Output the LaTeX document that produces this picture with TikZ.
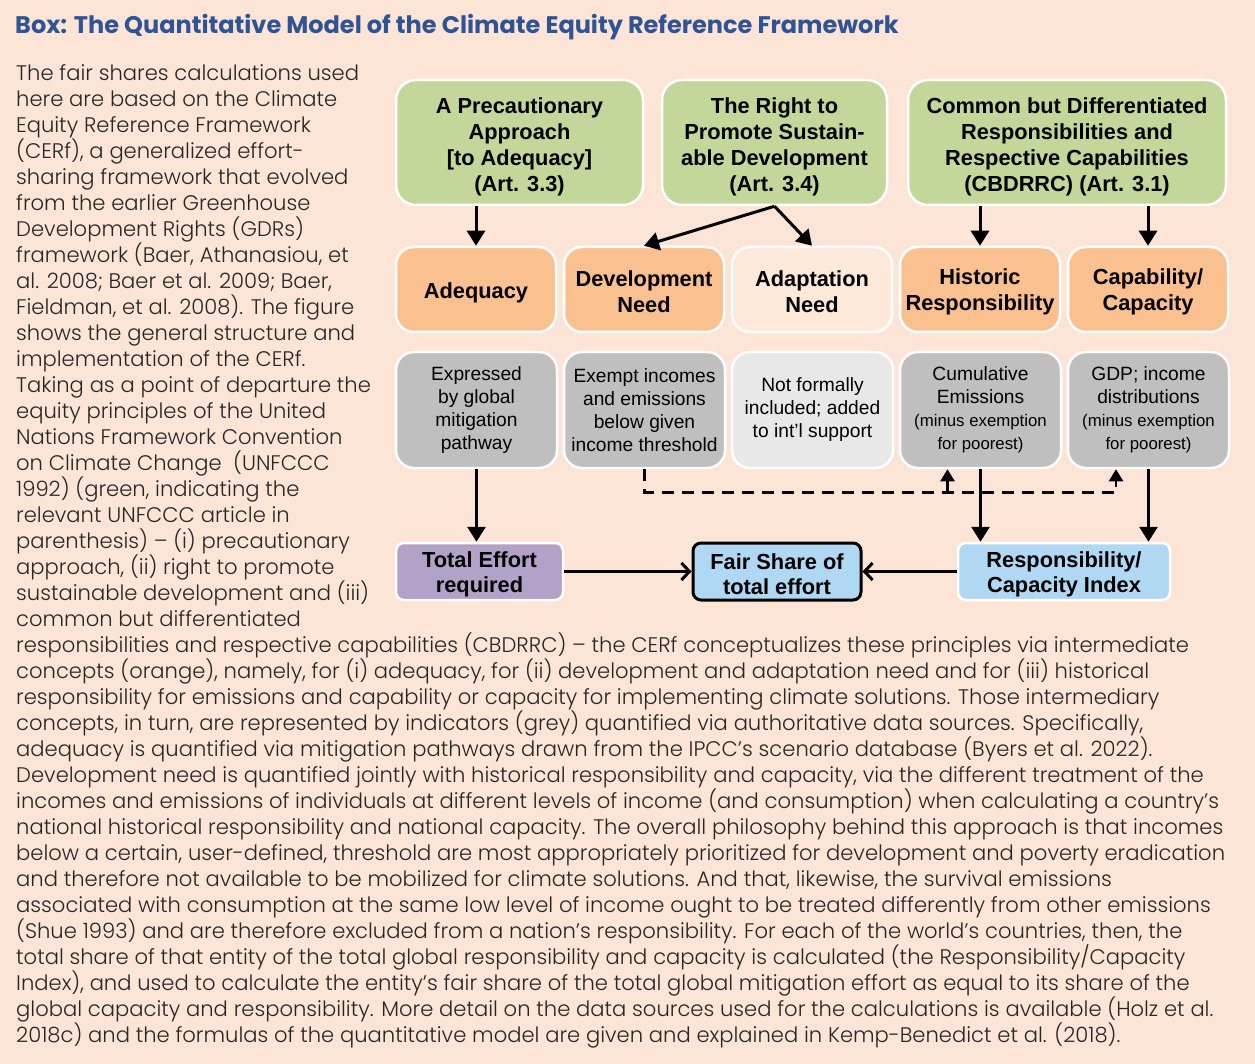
\documentclass[tikz,border=0pt]{standalone}
\usepackage{fontspec}
\usepackage{tikz}
\usetikzlibrary{arrows.meta,shapes}
\newfontfamily\bodyfont{Poppins}[UprightFont=* Light]
\newfontfamily\titlefont{Poppins}
\newfontfamily\diagfont{Liberation Sans}
\definecolor{boxbg}{HTML}{FCE4D6}
\definecolor{titleblue}{HTML}{2F5496}
\definecolor{greenbox}{HTML}{C4D79B}
\definecolor{orangebox}{HTML}{FAC090}
\definecolor{paleorange}{HTML}{FDE9D9}
\definecolor{greybox}{HTML}{BFBFBF}
\definecolor{palegrey}{HTML}{E8E8E8}
\definecolor{purplebox}{HTML}{B3A2C7}
\definecolor{bluebox}{HTML}{B0D8F2}
\tikzstyle{principle} = [rectangle, draw=white, line width=2.5pt, fill=greenbox,
    align=center, rounded corners=20pt, minimum height=125pt, inner sep=2pt,
    font=\diagfont\bfseries\fontsize{21.8}{26}\selectfont]
\tikzstyle{concept} = [rectangle, draw=white, line width=2.5pt, fill=orangebox,
    align=center, rounded corners=18pt, minimum width=160pt, minimum height=85pt,
    inner sep=2pt, font=\diagfont\bfseries\fontsize{21.8}{26}\selectfont]
\tikzstyle{indicator} = [rectangle, draw=white, line width=2.5pt, fill=greybox,
    align=center, rounded corners=18pt, minimum width=161pt, minimum height=116pt,
    inner sep=2pt, font=\diagfont\fontsize{19.2}{23}\selectfont]
\tikzstyle{result} = [rectangle, draw=white, line width=2.5pt, fill=bluebox,
    align=center, rounded corners=8pt, minimum height=57pt, inner sep=2pt,
    font=\diagfont\bfseries\fontsize{21.8}{25}\selectfont]
\tikzstyle{line} = [draw, line width=3pt, -{Triangle[length=15pt,width=18pt]}]
\tikzstyle{flow} = [draw, line width=3pt, -{Straight Barb[length=8pt,width=17pt]}]
\tikzstyle{dashline} = [draw, line width=2.5pt, dash pattern=on 12pt off 8pt,
    -{Triangle[length=12pt,width=14pt]}]
\newcommand{\minus}[1]{{\fontsize{16.8}{21}\selectfont #1}}
\newcommand{\lift}[1]{\rule{0pt}{#1}}

\begin{document}
\begin{tikzpicture}[x=1pt, y=-1pt]
  \useasboundingbox (0,0) rectangle (1255,1064);
  \fill [boxbg] (0,0) rectangle (1255,1064);

  % Heading and text
  \node [anchor=west, inner sep=0pt, text=titleblue,
    font=\titlefont\bfseries\fontsize{24}{28}\selectfont] (title) at (15,27.5)
    {Box: The Quantitative Model of the Climate Equity Reference Framework};
  \node [anchor=north west, align=left, inner sep=0pt, text=black!85,
    font=\bodyfont\fontsize{21.1}{26}\selectfont] (bodytext) at (16,64)
    {The fair shares calculations used\\
    here are based on the Climate\\
    Equity Reference Framework\\
    (CERf), a generalized effort-\\
    sharing framework that evolved\\
    from the earlier Greenhouse\\
    Development Rights (GDRs)\\
    framework (Baer, Athanasiou, et\\
    al. 2008; Baer et al. 2009; Baer,\\
    Fieldman, et al. 2008). The figure\\
    shows the general structure and\\
    implementation of the CERf.\\
    Taking as a point of departure the\\
    equity principles of the United\\
    Nations Framework Convention\\
    on Climate Change~ (UNFCCC\\
    1992) (green, indicating the\\
    relevant UNFCCC article in\\
    parenthesis) – (i) precautionary\\
    approach, (ii) right to promote\\
    sustainable development and (iii)\\
    common but differentiated\\
    responsibilities and respective capabilities (CBDRRC) – the CERf conceptualizes these principles via intermediate\\
    concepts (orange), namely, for (i) adequacy, for (ii) development and adaptation need and for (iii) historical\\
    responsibility for emissions and capability or capacity for implementing climate solutions. Those intermediary\\
    concepts, in turn, are represented by indicators (grey) quantified via authoritative data sources. Specifically,\\
    adequacy is quantified via mitigation pathways drawn from the IPCC’s scenario database (Byers et al. 2022).\\
    Development need is quantified jointly with historical responsibility and capacity, via the different treatment of the\\
    incomes and emissions of individuals at different levels of income (and consumption) when calculating a country’s\\
    national historical responsibility and national capacity. The overall philosophy behind this approach is that incomes\\
    below a certain, user-defined, threshold are most appropriately prioritized for development and poverty eradication\\
    and therefore not available to be mobilized for climate solutions. And that, likewise, the survival emissions\\
    associated with consumption at the same low level of income ought to be treated differently from other emissions\\
    (Shue 1993) and are therefore excluded from a nation’s responsibility. For each of the world’s countries, then, the\\
    total share of that entity of the total global responsibility and capacity is calculated (the Responsibility/Capacity\\
    Index), and used to calculate the entity’s fair share of the total global mitigation effort as equal to its share of the\\
    global capacity and responsibility. More detail on the data sources used for the calculations is available (Holz et al.\\
    2018c) and the formulas of the quantitative model are given and explained in Kemp-Benedict et al. (2018).};

  % Place nodes
  \node [principle, minimum width=247pt] (precaution) at (519.5,142.5)
    {\lift{24pt}A Precautionary\\ Approach\\ {[}to Adequacy{]}\\ (Art. 3.3)};
  \node [principle, minimum width=225pt, right of=precaution, node distance=255pt] (righttodev)
    {\lift{24pt}The Right to\\ Promote Sustain-\\ able Development\\ (Art. 3.4)};
  \node [principle, minimum width=318pt, right of=righttodev, node distance=292.5pt] (cbdrrc)
    {\lift{24pt}Common but Differentiated\\ Responsibilities and\\ Respective Capabilities\\ (CBDRRC) (Art. 3.1)};

  \node [concept] (adequacy) at (476,289.5) {\lift{22pt}Adequacy};
  \node [concept, right of=adequacy, node distance=168pt] (devneed) {\lift{20pt}Development\\ Need};
  \node [concept, fill=paleorange, right of=devneed, node distance=168pt] (adaptneed) {\lift{20pt}Adaptation\\ Need};
  \node [concept, right of=adaptneed, node distance=168pt] (historic) {\lift{20pt}Historic\\ Responsibility};
  \node [concept, right of=historic, node distance=168pt] (capability) {\lift{20pt}Capability/\\ Capacity};

  \node [indicator] (pathway) at (476.5,410) {Expressed\\ by global\\ mitigation\\ pathway};
  \node [indicator, right of=pathway, node distance=168pt] (exempt)
    {Exempt incomes\\ and emissions\\ below given\\ income threshold};
  \node [indicator, fill=palegrey, right of=exempt, node distance=168pt] (support)
    {Not formally\\ included; added\\ to int’l support};
  \node [indicator, right of=support, node distance=168pt] (cumulative)
    {Cumulative\\ Emissions\\ \minus{(minus exemption}\\ \minus{for poorest)}};
  \node [indicator, right of=cumulative, node distance=168pt] (gdp)
    {GDP; income\\ distributions\\ \minus{(minus exemption}\\ \minus{for poorest)}};

  \node [result, fill=purplebox, minimum width=167pt] (totaleffort) at (479.5,571.5)
    {\lift{22pt}Total Effort\\ required};
  \node [result, draw=black, line width=3pt, minimum width=168pt, right of=totaleffort,
    node distance=297.5pt] (fairshare) {\lift{22pt}Fair Share of\\ total effort};
  \node [result, minimum width=212pt, right of=fairshare, node distance=287pt] (rci)
    {\lift{22pt}Responsibility/\\ Capacity Index};

  % Draw edges
  \path [line] (adequacy.north |- precaution.south) -- (adequacy.north);
  \path [line] (righttodev.south) -- (devneed.north);
  \path [line] (righttodev.south) -- (adaptneed.north);
  \path [line] (historic.north |- cbdrrc.south) -- (historic.north);
  \path [line] (capability.north |- cbdrrc.south) -- (capability.north);
  \path [line] (pathway.south) -- (pathway.south |- totaleffort.north);
  \path [line] (cumulative.south) -- (cumulative.south |- rci.north);
  \path [line] (gdp.south) -- (gdp.south |- rci.north);
  \path [flow] (totaleffort.east) -- (fairshare.west);
  \path [flow] (rci.west) -- (fairshare.east);

  % exemption feeds into the two indices
  \path [dashline] (exempt.south) -- ++(0,23) coordinate (dashturn)
    -| ([xshift=-32.5pt]gdp.south);
  \path [dashline] ([xshift=-33pt]cumulative.south |- dashturn) -- ([xshift=-33pt]cumulative.south);

\end{tikzpicture}
\end{document}
